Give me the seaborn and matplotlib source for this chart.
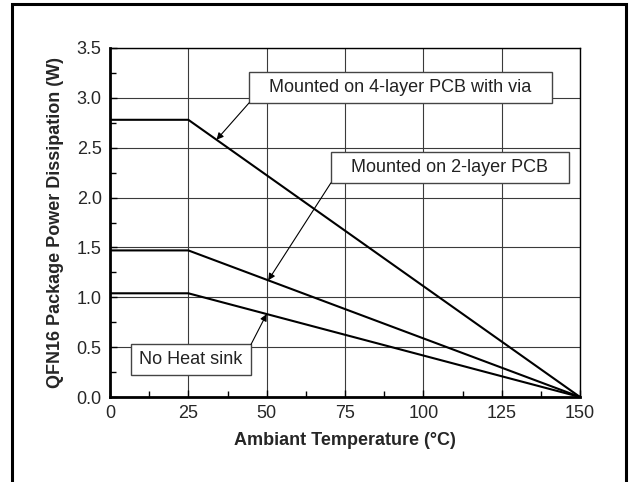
import numpy as np
import pandas as pd
import matplotlib
matplotlib.use("Agg")
import matplotlib.pyplot as plt
from matplotlib.patches import Rectangle
from matplotlib.ticker import MultipleLocator, FormatStrFormatter
import seaborn as sns

# ---- data ----
temperatura = [0, 25, 150]
pcb_4_capas = [2.78, 2.78, 0.0]
pcb_2_capas = [1.47, 1.47, 0.0]
sin_disipador = [1.04, 1.04, 0.0]
etiquetas = ["Mounted on 4-layer PCB with via", "Mounted on 2-layer PCB", "No Heat sink"]

# arrow tips (temperature on each line) and label boxes (x0, x1, y0, y1)
punta_x = [34, 50.5, 50]
cajas = [(44.4, 141.0, 2.95, 3.263),
         (70.5, 146.5, 2.147, 2.453),
         (6.6, 45.0, 0.223, 0.527)]
esquina = [(0, 0), (0, 0), (1, 1)]

series = [pcb_4_capas, pcb_2_capas, sin_disipador]
df = pd.DataFrame({
    "temp": temperatura * 3,
    "power": pcb_4_capas + pcb_2_capas + sin_disipador,
    "board": np.repeat(etiquetas, len(temperatura)),
})

sns.set_style("white")
plt.rcParams['font.family'] = ['Liberation Sans', 'DejaVu Sans']

fig = plt.figure(figsize=(6.33, 4.82), dpi=100)
ax = fig.add_axes([110 / 633, 1 - 397 / 482, 470 / 633, 349 / 482])

sns.lineplot(data=df, x="temp", y="power", hue="board", palette=["black"] * 3,
             legend=False, linewidth=1.5, ax=ax, zorder=3)

ax.set_xlim(0, 150)
ax.set_ylim(0, 3.5)
ax.xaxis.set_major_locator(MultipleLocator(25))
ax.xaxis.set_minor_locator(MultipleLocator(12.5))
ax.yaxis.set_major_locator(MultipleLocator(0.5))
ax.yaxis.set_minor_locator(MultipleLocator(0.25))
ax.yaxis.set_major_formatter(FormatStrFormatter("%.1f"))
ax.grid(True, which="major", color="#3a3a3a", linewidth=0.8)
ax.tick_params(which="both", direction="in", left=True, bottom=True,
               top=False, right=False, color="black")
ax.tick_params(which="major", length=5, width=1, labelsize=13, pad=6)
ax.tick_params(which="minor", length=4, width=1)

for lado in ["left", "bottom"]:
    ax.spines[lado].set_linewidth(2.0)
for lado in ["top", "right"]:
    ax.spines[lado].set_linewidth(1.0)
for s in ax.spines.values():
    s.set_color("black")
    s.set_zorder(4)

ax.set_xlabel("Ambiant Temperature (°C)", fontsize=13, fontweight="bold", labelpad=7)
ax.set_ylabel("QFN16 Package Power Dissipation (W)", fontsize=13, fontweight="bold", labelpad=9)

# label boxes with arrows
for txt, caja, px, serie, rel in zip(etiquetas, cajas, punta_x, series, esquina):
    x0, x1, y0, y1 = caja
    ax.add_patch(Rectangle((x0, y0), x1 - x0, y1 - y0, facecolor="white",
                           edgecolor="#444444", linewidth=1.0, zorder=5))
    ax.text((x0 + x1) / 2, (y0 + y1) / 2, txt, ha="center", va="center",
            fontsize=13, color="#222222", zorder=6)
    py = np.interp(px, temperatura, serie)
    cx = x0 if rel[0] == 0 else x1
    cy = y0 if rel[1] == 0 else y1
    ax.annotate("", xy=(px, py), xytext=(cx, cy), zorder=6,
                arrowprops=dict(arrowstyle="-|>", color="black", lw=0.8,
                                mutation_scale=10, shrinkA=0, shrinkB=0))

# outer frame of the figure
fig.patches.append(Rectangle((12 / 633, -0.05), 614 / 633, 1.05 - 4 / 482,
                             transform=fig.transFigure, fill=False,
                             edgecolor="black", linewidth=2.2))

fig.savefig("out.png", dpi=100)
